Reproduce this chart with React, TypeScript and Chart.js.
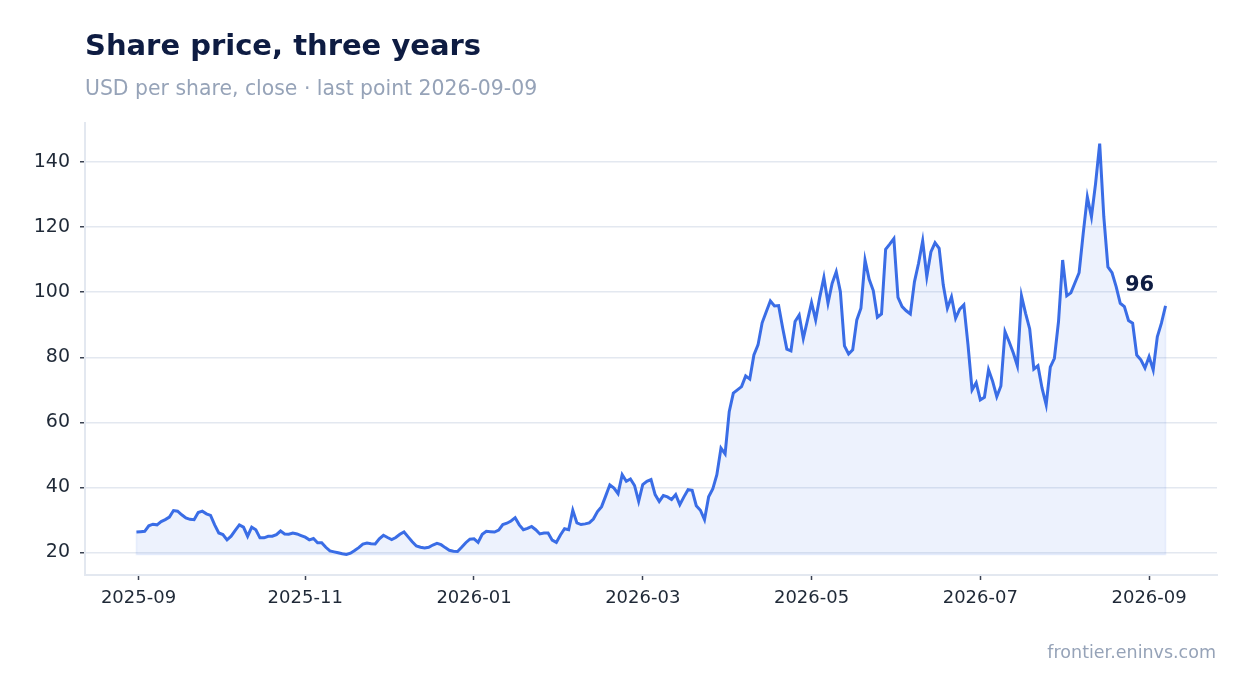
import { useEffect, useRef } from 'react';
import Chart from 'chart.js/auto';

// closing price per trading session, oldest first (last session 2026-09-09)
const CLOSES = [
  26.3, 26.4, 26.5, 28.2, 28.7, 28.5, 29.5, 30.1, 30.9, 32.9,
  32.7, 31.6, 30.6, 30.2, 30.1, 32.3, 32.7, 31.9, 31.4, 28.5,
  26.0, 25.5, 23.9, 25.0, 26.8, 28.5, 27.8, 25.0, 27.8, 27.0,
  24.5, 24.5, 25.0, 25.0, 25.5, 26.6, 25.7, 25.6, 26.0, 25.7,
  25.2, 24.7, 23.9, 24.3, 23.0, 23.0, 21.6, 20.5, 20.2, 19.9,
  19.6, 19.4, 19.8, 20.6, 21.5, 22.6, 22.9, 22.7, 22.6, 24.2,
  25.3, 24.6, 24.0, 24.6, 25.6, 26.3, 24.8, 23.3, 22.0, 21.6,
  21.4, 21.6, 22.3, 22.8, 22.4, 21.5, 20.7, 20.4, 20.3, 21.6,
  23.0, 24.1, 24.2, 23.1, 25.6, 26.5, 26.4, 26.3, 26.9, 28.6,
  29.0, 29.7, 30.7, 28.5, 27.0, 27.4, 28.0, 27.0, 25.7, 26.0,
  26.0, 23.8, 23.1, 25.4, 27.3, 27.0, 33.0, 29.1, 28.6, 28.8,
  29.1, 30.3, 32.6, 34.1, 37.4, 40.8, 39.8, 38.1, 43.9, 41.9,
  42.6, 40.6, 35.7, 40.9, 41.9, 42.4, 37.8, 35.7, 37.5, 37.1,
  36.3, 37.8, 34.7, 37.1, 39.3, 39.1, 34.4, 33.0, 30.1, 37.1,
  39.5, 43.9, 52.1, 50.3, 63.3, 69.0, 70.0, 71.0, 74.3, 73.3,
  80.7, 83.8, 90.6, 94.0, 97.3, 95.8, 95.9, 88.9, 82.5, 82.0,
  91.0, 93.0, 85.8, 91.3, 96.8, 91.5, 98.5, 104.5, 96.6, 102.7,
  106.3, 100.2, 83.5, 81.0, 82.3, 91.5, 95.1, 109.9, 104.0, 100.5,
  92.3, 93.3, 113.2, 114.8, 116.5, 98.4, 95.6, 94.3, 93.3, 103.2,
  108.9, 115.8, 104.8, 112.4, 115.2, 113.5, 102.2, 95.1, 98.6, 92.0,
  94.8, 96.1, 84.0, 70.0, 72.2, 66.9, 67.7, 76.2, 72.6, 67.9,
  71.2, 87.9, 84.8, 81.4, 77.4, 98.9, 93.5, 88.7, 76.4, 77.4,
  70.5, 65.4, 77.0, 79.7, 91.0, 109.9, 98.9, 99.8, 102.9, 106.0,
  118.1, 129.3, 123.2, 133.4, 145.7, 123.2, 107.8, 106.0, 101.7, 96.6,
  95.6, 91.3, 90.5, 80.7, 79.2, 76.7, 80.2, 76.1, 86.3, 90.5,
  95.8
];

// where each second month starts, in session units
const MONTH_TICK_INDEX = [0.5, 41, 82, 123, 164, 205, 246];
const MONTH_TICK_LABELS = ['2025-09', '2025-11', '2026-01', '2026-03', '2026-05', '2026-07', '2026-09'];

const Y_TICKS = [20, 40, 60, 80, 100, 120, 140];

const C = {
  navy: '#0e1c42',
  muted: '#96a3b8',
  ink: '#1f2937',
  tick: '#3b4252',
  line: '#3a6de6',
  fill: 'rgba(58, 109, 230, 0.09)',
  edge: 'rgba(58, 109, 230, 0.10)',
  grid: '#e3e8f0'
};

const FONT = '"DejaVu Sans", sans-serif';

export default function App() {
  const canvasRef = useRef<HTMLCanvasElement | null>(null);

  useEffect(() => {
    if (!canvasRef.current) return;

    const lo = Math.min(...CLOSES);
    const hi = Math.max(...CLOSES);
    const yPad = (hi - lo) * 0.05;
    const n = CLOSES.length - 1;
    const xPad = n * 0.05;

    // faint outline around the filled area
    const areaEdge = {
      id: 'areaEdge',
      beforeDatasetsDraw(chart: any) {
        const pts = chart.getDatasetMeta(0).data;
        const base = chart.scales.y.getPixelForValue(lo);
        const ctx = chart.ctx;
        ctx.save();
        ctx.beginPath();
        ctx.moveTo(pts[0].x, base);
        pts.forEach((p: any) => ctx.lineTo(p.x, p.y));
        ctx.lineTo(pts[pts.length - 1].x, base);
        ctx.closePath();
        ctx.strokeStyle = C.edge;
        ctx.lineWidth = 1.5;
        ctx.stroke();
        ctx.restore();
      }
    };

    // value of the last close above the end of the line
    const lastLabel = {
      id: 'lastLabel',
      afterDatasetsDraw(chart: any) {
        const pts = chart.getDatasetMeta(0).data;
        const p = pts[pts.length - 1];
        const ctx = chart.ctx;
        ctx.save();
        ctx.font = 'bold 21px ' + FONT;
        ctx.fillStyle = C.navy;
        ctx.textAlign = 'center';
        ctx.textBaseline = 'middle';
        ctx.fillText(String(Math.round(CLOSES[CLOSES.length - 1])), p.x - 26, p.y - 20);
        ctx.restore();
      }
    };

    const chart = new Chart(canvasRef.current, {
      type: 'line',
      data: {
        datasets: [
          {
            data: CLOSES.map((v, i) => ({ x: i, y: v })),
            borderColor: C.line,
            backgroundColor: C.fill,
            fill: { value: lo },
            borderWidth: 3,
            tension: 0,
            pointRadius: 0
          }
        ]
      },
      options: {
        responsive: false,
        animation: false,
        layout: {
          padding: { left: 0, right: 22, top: 115, bottom: 70 }
        },
        plugins: {
          legend: { display: false },
          tooltip: { enabled: false }
        },
        scales: {
          x: {
            type: 'linear',
            min: -xPad,
            max: n + xPad,
            afterFit: (s: any) => {
              s.height = 40;
            },
            afterBuildTicks: (s: any) => {
              s.ticks = MONTH_TICK_INDEX.map((v) => ({ value: v }));
            },
            grid: {
              drawOnChartArea: false,
              tickColor: C.tick,
              tickLength: 5,
              tickWidth: 1.5
            },
            border: { color: C.grid, width: 2 },
            ticks: {
              padding: 8,
              color: C.ink,
              font: { family: FONT, size: 18 },
              maxRotation: 0,
              callback: (v: any) => MONTH_TICK_LABELS[MONTH_TICK_INDEX.indexOf(v)] ?? ''
            }
          },
          y: {
            min: lo - yPad,
            max: hi + yPad,
            afterFit: (s: any) => {
              s.width = 77;
            },
            afterBuildTicks: (s: any) => {
              s.ticks = Y_TICKS.map((v) => ({ value: v }));
            },
            grid: {
              color: C.grid,
              lineWidth: 1.5,
              tickColor: C.tick,
              tickLength: 5,
              tickWidth: 1.5
            },
            border: { color: C.grid, width: 2 },
            ticks: {
              padding: 10,
              color: C.ink,
              font: { family: FONT, size: 19 }
            }
          }
        }
      },
      plugins: [areaEdge, lastLabel]
    });

    return () => chart.destroy();
  }, []);

  return (
    <div style={{ position: 'relative', width: 1231, height: 677, fontFamily: FONT }}>
      <canvas ref={canvasRef} width={1231} height={677} style={{ position: 'absolute', left: 0, top: 0 }} />
      <div
        style={{
          position: 'absolute',
          left: 77,
          top: 21,
          lineHeight: '32px',
          fontSize: 29,
          fontWeight: 'bold',
          color: C.navy
        }}
      >
        Share price, three years
      </div>
      <div style={{ position: 'absolute', left: 77, top: 68, lineHeight: '24px', fontSize: 20.4, color: C.muted }}>
        USD per share, close · last point 2026-09-09
      </div>
      <div style={{ position: 'absolute', right: 23, top: 634, lineHeight: '20px', fontSize: 17.5, color: C.muted }}>
        frontier.eninvs.com
      </div>
    </div>
  );
}
